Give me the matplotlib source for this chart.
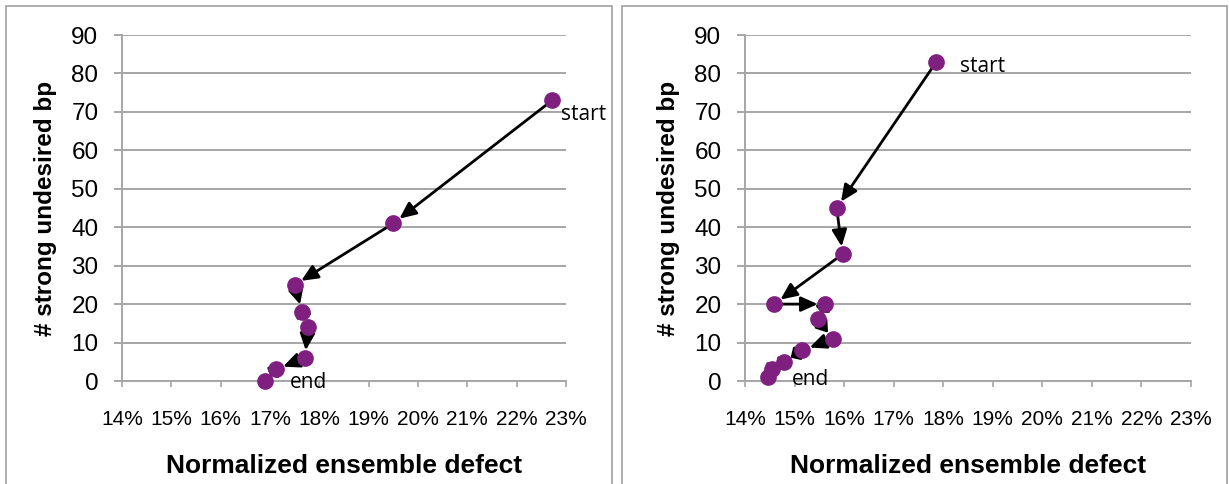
import matplotlib
matplotlib.use('Agg')
import numpy as np
import matplotlib.pyplot as plt
from matplotlib.patches import Rectangle

# data (defect in %, count of strong undesired bp)
left_defect = [22.72, 19.5, 17.5, 17.65, 17.77, 17.71, 17.12, 16.9]
left_bp = [73, 41, 25, 18, 14, 6, 3, 0]

right_defect = [17.86, 15.85, 15.97, 14.59, 15.62, 15.47, 15.77, 15.16, 14.79, 14.54, 14.46]
right_bp = [83, 45, 33, 20, 20, 16, 11, 8, 5, 3, 1]

x_ticks = list(range(14, 24))
y_ticks = list(range(0, 100, 10))

PURPLE = '#7F1F7F'
GRID = '#a6a6a6'
HEAD = 10.0  # arrow head length in points
MARKER_R = 5.5  # marker radius in points

plt.rcParams['font.family'] = ['Liberation Sans', 'DejaVu Sans']


def draw_panel(fig, rect, xs, ys, start_off, end_off):
    ax = fig.add_axes(rect)
    ax.set_xlim(14, 23)
    ax.set_ylim(0, 90)
    ax.set_xticks(x_ticks)
    ax.set_xticklabels(['%d%%' % t for t in x_ticks])
    ax.set_yticks(y_ticks)
    ax.yaxis.grid(True, color=GRID, lw=1.4)
    ax.set_axisbelow(True)
    for s in ['top', 'right']:
        ax.spines[s].set_visible(False)
    for s in ['left', 'bottom']:
        ax.spines[s].set_color(GRID)
        ax.spines[s].set_linewidth(1.4)
    ax.tick_params(axis='y', length=6, width=1.4, color=GRID, labelsize=17.5, pad=11)
    ax.tick_params(axis='x', length=4, width=1.2, color=GRID, labelsize=15, pad=17)
    ax.set_xlabel('Normalized ensemble defect', fontsize=19, fontweight='bold', labelpad=18)
    ax.set_ylabel('# strong undesired bp', fontsize=17.5, fontweight='bold', labelpad=10)

    # arrows between consecutive designs, head shortened on short hops
    pts = ax.transData.transform(np.column_stack([xs, ys])) * 72.0 / fig.dpi
    for i in range(len(xs) - 1):
        seg = np.hypot(*(pts[i + 1] - pts[i]))
        head = min(HEAD, max(seg - 2 * MARKER_R, 2.0))
        ax.annotate('', xy=(xs[i + 1], ys[i + 1]), xytext=(xs[i], ys[i]),
                    arrowprops=dict(arrowstyle='-|>,head_length=%.2f,head_width=0.45' % (head / 10.0),
                                    color='black', lw=2, shrinkA=0, shrinkB=MARKER_R),
                    zorder=3)
    ax.plot(xs, ys, 'o', color=PURPLE, ms=11, zorder=5, clip_on=False)

    ax.annotate('start', xy=(xs[0], ys[0]), xytext=start_off, textcoords='offset points',
                fontsize=15, family=['Open Sans', 'DejaVu Sans'], va='center', ha='left')
    ax.annotate('end', xy=(xs[-1], ys[-1]), xytext=end_off, textcoords='offset points',
                fontsize=15, family=['Open Sans', 'DejaVu Sans'], va='center', ha='left')
    return ax


fig = plt.figure(figsize=(12.29, 4.84), dpi=100)

# panel frames
fig.patches.append(Rectangle((6 / 1229, -0.05), 606 / 1229, 1.05 - 6 / 484,
                             transform=fig.transFigure, fill=False, ec='#a0a0a0', lw=1.2))
fig.patches.append(Rectangle((622 / 1229, -0.05), 605 / 1229, 1.05 - 6 / 484,
                             transform=fig.transFigure, fill=False, ec='#a0a0a0', lw=1.2))

draw_panel(fig, [122 / 1229, 1 - 381 / 484, 444 / 1229, 346 / 484],
           left_defect, left_bp, (6, -10), (18, -1))
draw_panel(fig, [745 / 1229, 1 - 381 / 484, 446 / 1229, 346 / 484],
           right_defect, right_bp, (17, -3), (17, -2))

fig.savefig('out.png', dpi=100)
